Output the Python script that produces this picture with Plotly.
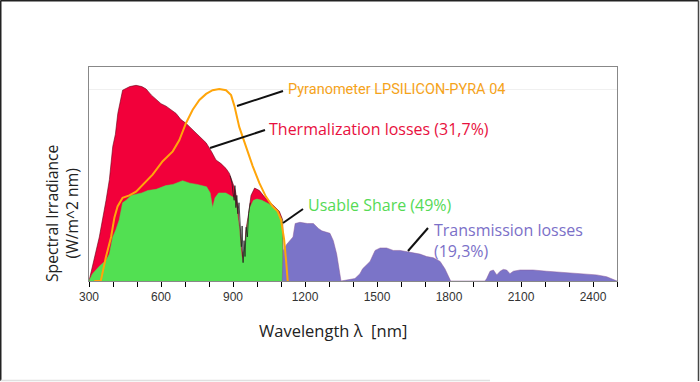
import plotly.graph_objects as go

# ---- data (spectral irradiance in W/m^2 nm) ----
total_wl = [300, 315, 343, 371, 385, 399, 410, 420, 440, 470, 496, 520, 538, 560, 579, 600, 621, 640,
            663, 683, 704, 725, 746, 767, 788, 810, 829, 850, 871, 885, 899, 910, 920, 926, 935, 945,
            954, 965, 975, 990, 1010, 1030, 1051, 1070, 1093, 1107, 1110]
total_val = [0.0, 0.12, 0.36, 0.66, 0.83, 1.10, 1.20, 1.37, 1.56, 1.59, 1.60, 1.59, 1.57, 1.52, 1.49, 1.45,
             1.43, 1.40, 1.37, 1.32, 1.29, 1.25, 1.21, 1.17, 1.13, 1.06, 0.99, 0.96, 0.92, 0.88, 0.80,
             0.74, 0.61, 0.47, 0.28, 0.17, 0.42, 0.55, 0.70, 0.76, 0.74, 0.69, 0.65, 0.61, 0.57, 0.50, 0.0]

usable_wl = [300, 315, 343, 371, 385, 399, 412, 426, 440, 455, 475, 496, 520, 545, 580, 620, 650, 690,
             720, 750, 790, 805, 815, 825, 840, 870, 890, 905, 915, 925, 935, 942, 950, 960, 970, 985,
             1000, 1020, 1050, 1075, 1093, 1105, 1108]
usable_val = [0.0, 0.06, 0.12, 0.17, 0.22, 0.36, 0.42, 0.50, 0.64, 0.66, 0.70, 0.71, 0.72, 0.74, 0.75,
              0.78, 0.79, 0.82, 0.80, 0.79, 0.77, 0.72, 0.60, 0.68, 0.72, 0.72, 0.70, 0.68, 0.60, 0.45,
              0.22, 0.15, 0.30, 0.45, 0.60, 0.66, 0.67, 0.66, 0.63, 0.59, 0.54, 0.50, 0.0]

trans_wl = [1105, 1110, 1124, 1138, 1150, 1159, 1179, 1210, 1235, 1256, 1270, 1304, 1318, 1332, 1343,
            1350, 1408, 1429, 1440, 1450, 1471, 1492, 1513, 1540, 1568, 1596, 1631, 1651, 1679, 1707,
            1735, 1763, 1783, 1797, 1807, 1950, 1957, 1971, 1985, 1999, 2013, 2026, 2040, 2054, 2068,
            2096, 2151, 2207, 2276, 2346, 2415, 2457, 2485, 2500]
trans_val = [0.0, 0.25, 0.30, 0.33, 0.36, 0.47, 0.48, 0.47, 0.47, 0.43, 0.41, 0.39, 0.33, 0.22, 0.09,
             0.0, 0.02, 0.06, 0.10, 0.12, 0.16, 0.25, 0.27, 0.27, 0.25, 0.25, 0.24, 0.23, 0.22, 0.20,
             0.19, 0.16, 0.10, 0.04, 0.0, 0.0, 0.02, 0.08, 0.09, 0.05, 0.08, 0.095, 0.09, 0.06, 0.08,
             0.09, 0.09, 0.08, 0.07, 0.06, 0.05, 0.035, 0.01, 0.0]

pyra_wl = [322, 349, 371, 392, 406, 419, 440, 468, 496, 524, 565, 607, 649, 676, 704, 732, 760, 788,
           815, 843, 871, 892, 906, 926, 954, 982, 1010, 1037, 1065, 1086, 1100, 1113, 1121, 1128]
pyra_val = [0.0, 0.0, 0.20, 0.36, 0.52, 0.61, 0.68, 0.70, 0.73, 0.79, 0.87, 0.98, 1.06, 1.15, 1.29,
            1.40, 1.48, 1.53, 1.56, 1.57, 1.56, 1.52, 1.43, 1.26, 1.10, 0.94, 0.80, 0.69, 0.61, 0.57,
            0.50, 0.34, 0.17, 0.0]

spec_wl = [888, 896, 900, 905, 908, 912, 916, 920, 925, 930, 935, 938, 942, 946, 950, 955, 960, 965, 972]
spec_val = [0.86, 0.80, 0.72, 0.66, 0.78, 0.60, 0.70, 0.55, 0.64, 0.40, 0.28, 0.45, 0.15, 0.33, 0.20,
            0.44, 0.36, 0.55, 0.64]

x_ticks = [300, 600, 900, 1200, 1500, 1800, 2100, 2400]

RED = "#F2003A"
GREEN = "#52E052"
PURPLE = "#7B74C8"
ORANGE = "#FFA50A"

fig = go.Figure()
fig.add_trace(go.Scatter(x=total_wl, y=total_val, mode="lines", fill="tozeroy",
                         fillcolor=RED, line=dict(color="#6a0018", width=0.6)))
fig.add_trace(go.Scatter(x=usable_wl, y=usable_val, mode="lines", fill="tozeroy",
                         fillcolor=GREEN, line=dict(color=GREEN, width=0.5)))
fig.add_trace(go.Scatter(x=trans_wl, y=trans_val, mode="lines", fill="tozeroy",
                         fillcolor=PURPLE, line=dict(color="#8a5a9a", width=0.5)))
fig.add_trace(go.Scatter(x=spec_wl, y=spec_val, mode="lines",
                         line=dict(color="#222222", width=0.8)))
fig.add_trace(go.Scatter(x=pyra_wl, y=pyra_val, mode="lines",
                         line=dict(color=ORANGE, width=2)))

fig.update_layout(
    width=700, height=382,
    margin=dict(l=89, r=83, t=67, b=101),
    paper_bgcolor="white", plot_bgcolor="white",
    showlegend=False,
    font=dict(family="Open Sans, Arial", color="#222"),
    xaxis=dict(range=[300, 2500], tickvals=x_ticks,
               ticks="outside", ticklen=5, tickcolor="#000",
               minor=dict(dtick=100, tick0=300, ticks="outside", ticklen=5, tickcolor="#000"),
               showgrid=False, zeroline=False,
               showline=True, linecolor="#888", linewidth=1, mirror=True,
               tickfont=dict(family="Liberation Sans, Arial", size=12, color="#333")),
    yaxis=dict(range=[0, 1.75], tickvals=[1.57], showticklabels=False, ticks="",
               showgrid=True, gridcolor="#f0f0f0", zeroline=False,
               showline=True, linecolor="#888", linewidth=1, mirror=True),
)

def px2paper_x(px):
    return (px - 89) / 528.0

def px2paper_y(py):
    return (281 - py) / 214.0

# frame around the whole picture
for (x0, y0, x1, y1, c) in [(0.75, 0.5, 0.75, 381, "#222"), (0.5, 0.75, 698.5, 0.75, "#222"),
                            (698.5, 0.5, 698.5, 381, "#444"), (0.5, 380.5, 490, 380.5, "#e0e0e0")]:
    fig.add_shape(type="line", xref="paper", yref="paper",
                  x0=px2paper_x(x0), y0=px2paper_y(y0), x1=px2paper_x(x1), y1=px2paper_y(y1),
                  line=dict(color=c, width=1.5))

# pointer lines
for (x0, y0, x1, y1) in [(237, 106, 283, 91), (210, 148, 265, 130), (283, 223, 303, 209),
                         (408, 251, 428, 228)]:
    fig.add_shape(type="line", xref="paper", yref="paper",
                  x0=px2paper_x(x0), y0=px2paper_y(y0), x1=px2paper_x(x1), y1=px2paper_y(y1),
                  line=dict(color="#111", width=2))

labels = [
    ("Pyranometer LPSILICON-PYRA 04", 286, 89, "#F5A31A", "Roboto", 14.5),
    ("Thermalization losses (31,7%)", 267, 129, "#E8103E", "Open Sans", 16),
    ("Usable Share (49%)", 306, 205, "#55DA55", "Open Sans", 16),
    ("Transmission losses<br>(19,3%)", 432, 240, "#7B70C8", "Open Sans", 16),
]
for text, x, y, col, fam, sz in labels:
    fig.add_annotation(text=text, xref="paper", yref="paper",
                       x=px2paper_x(x), y=px2paper_y(y), xanchor="left", yanchor="middle",
                       align="left", showarrow=False,
                       font=dict(family=fam, size=sz, color=col))

fig.add_annotation(text="Spectral Irradiance<br>(W/m^2 nm)", xref="paper", yref="paper",
                   x=px2paper_x(62), y=px2paper_y(214), textangle=-90, showarrow=False,
                   xanchor="center", yanchor="middle",
                   font=dict(family="Open Sans", size=15.7, color="#222"))
fig.add_annotation(text="Wavelength λ  [nm]", xref="paper", yref="paper",
                   x=px2paper_x(333), y=px2paper_y(330), showarrow=False,
                   xanchor="center", yanchor="middle",
                   font=dict(family="Open Sans", size=16.5, color="#222"))

fig.write_html("out.html", config={"displayModeBar": False},
               post_script="document.body.style.margin='0px';")
